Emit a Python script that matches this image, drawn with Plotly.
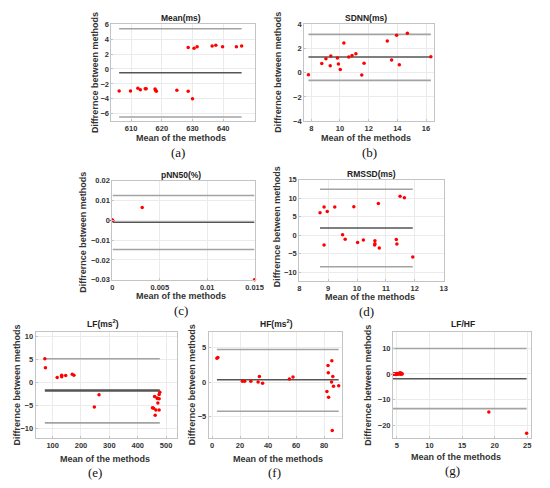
import plotly.graph_objects as go

# ---- data (Bland-Altman style panels) ----
mean_x = [606.1, 609.8, 612.2, 613.0, 614.6, 614.9, 617.8, 618.0, 618.2, 624.9,
          628.6, 628.6, 630.0, 630.5, 631.5, 636.4, 637.6, 639.8, 644.3, 646.0]
mean_y = [-2.94, -2.94, -2.6, -2.8, -2.65, -2.65, -2.7, -2.85, -3.0, -2.85,
          -3.0, 2.9, -4.0, 2.8, 3.0, 3.1, 3.2, 3.0, 3.0, 3.1]
mean_lim = [5.4, -0.5, -6.45]

sdnn_x = [7.8, 8.73, 9.02, 9.32, 9.36, 9.82, 9.89, 10.02, 10.27, 10.61,
          10.84, 11.11, 11.52, 11.68, 13.3, 13.6, 13.95, 14.14, 14.7, 16.34]
sdnn_y = [-0.16, 0.76, 1.16, 0.57, 1.38, 1.22, 0.73, 0.27, 2.46, 1.3,
          1.43, 1.57, -0.19, 0.78, 2.62, 1.05, 3.1, 0.65, 3.27, 1.32]
sdnn_lim = [3.17, 1.3, -0.63]

pnn_x = [0.0, 0.0, 0.0, 0.00314, 0.015]
pnn_y = [0.0, 0.0, 0.0, 0.0065, -0.03]
pnn_lim = [0.0125, -0.001, -0.0147]

rmssd_x = [8.72, 8.86, 8.86, 8.97, 9.23, 9.5, 9.59, 9.89, 10.02, 10.22,
           10.62, 10.62, 10.61, 10.74, 10.77, 11.36, 11.38, 11.49, 11.64, 11.93]
rmssd_y = [6.1, 7.6, -2.65, 6.4, 7.6, 0.1, -1.06, 7.7, -2.0, -1.3,
           -1.5, -2.3, -2.65, 8.6, -3.45, -1.15, -2.4, 10.5, 10.1, -5.9]
rmssd_lim = [12.4, 1.95, -8.5]

lf_x = [72.5, 74.6, 116, 132, 132, 146, 169, 175, 247, 263.6,
        477.8, 475.5, 459.5, 469.8, 475.5, 471, 456, 464, 475.5, 461.6, 452, 468]
lf_y = [5.14, 3.2, 1.07, 1.58, 1.22, 1.5, 1.8, 1.58, -5.35, -2.7,
        -2.14, -2.63, -3.06, -3.49, -3.56, -4.5, -5.63, -6.0, -6.0, -7.13, -5.5, -3.4]
lf_lim = [5.14, -1.78, -8.8]

hf_x = [3.5, 4.2, 21.7, 23.3, 27.7, 32.9, 33.8, 36.1, 55.2, 57.8,
        82.0, 82.8, 83.0, 83.2, 85.3, 85.5, 86.2, 86.7, 85.8, 90.4]
hf_y = [3.46, 3.6, 0.14, 0.14, 0.14, 0.05, 0.85, -0.14, 0.47, 0.76,
        -1.33, 2.42, 1.37, -2.18, 0.05, 3.13, 0.85, -0.57, -6.97, -0.52]
hf_lim = [4.74, 0.38, -4.2]

lfhf_x = [4.3, 4.45, 4.6, 4.7, 4.8, 4.9, 5.0, 5.05, 5.15, 5.25, 5.35, 5.45,
          5.5, 5.6, 5.65, 5.75, 5.8, 19.1, 24.9]
lfhf_y = [0.0, -0.1, 0.1, 0.0, -0.2, 0.1, 0.2, -0.1, 0.0, 0.1, 0.3, 0.0,
          0.5, -0.1, 0.3, 0.1, 0.0, -14.8, -23.1]
lfhf_lim = [9.9, -1.9, -13.5]

W, H = 550, 488
FONT = "Liberation Sans"

# panel: title, data, limits, frame box in px (left, right, top, bottom), ranges, ticks,
# label positions (title, x-title, y-title, letter)
panels = [
    dict(title="Mean(ms)", x=mean_x, y=mean_y, lim=mean_lim,
         box=(111.7, 258.3, 20.7, 119.3), xr=[603.6, 650.4], yr=[-7, 6],
         xt=[610, 620, 630, 640], yt=[-6, -4, -2, 0, 2, 4, 6],
         tpos=(183, 14.5), xtpos=(183, 137), ytpos=(94.3, 70), lpos=(180, 151), letter="(a)"),
    dict(title="SDNN(ms)", x=sdnn_x, y=sdnn_y, lim=sdnn_lim,
         box=(308.3, 440.7, 20.7, 119.3), xr=[7.5, 16.55], yr=[-4, 4],
         xt=[8, 10, 12, 14, 16], yt=[-4, -2, 0, 2, 4],
         tpos=(371.7, 14.5), xtpos=(371, 137), ytpos=(281.7, 70), lpos=(375, 151), letter="(b)"),
    dict(title="pNN50(%)", x=pnn_x, y=pnn_y, lim=pnn_lim,
         box=(112.7, 257.7, 180, 281), xr=[0, 0.015], yr=[-0.03, 0.02],
         xt=[0, 0.005, 0.01, 0.015], yt=[-0.03, -0.02, -0.01, 0, 0.01, 0.02],
         tpos=(183, 174), xtpos=(183, 297.5), ytpos=(82.7, 233), lpos=(183, 312.5), letter="(c)"),
    dict(title="RMSSD(ms)", x=rmssd_x, y=rmssd_y, lim=rmssd_lim,
         box=(303.3, 450.7, 179, 282.7), xr=[8, 13], yr=[-12.5, 15],
         xt=[8, 9, 10, 11, 12, 13], yt=[-10, -5, 0, 5, 10, 15],
         tpos=(376.7, 173.3), xtpos=(375, 298.5), ytpos=(280, 227), lpos=(371.7, 313.5), letter="(d)"),
    dict(title="LF(ms<sup>2</sup>)", x=lf_x, y=lf_y, lim=lf_lim,
         box=(34.3, 179, 334, 441.7), xr=[40, 540], yr=[-12, 11],
         xt=[100, 200, 300, 400, 500], yt=[-10, -5, 0, 5, 10],
         tpos=(103.3, 326), xtpos=(105, 463.5), ytpos=(15, 388), lpos=(95, 477), letter="(e)"),
    dict(title="HF(ms<sup>2</sup>)", x=hf_x, y=hf_y, lim=hf_lim,
         box=(211, 346.7, 334, 441.7), xr=[-2.3, 92.6], yr=[-8, 7.3],
         xt=[0, 20, 40, 60, 80], yt=[-5, 0, 5],
         tpos=(280, 326), xtpos=(281.7, 463.5), ytpos=(193.3, 388), lpos=(278.3, 477), letter="(f)"),
    dict(title="LF/HF", x=lfhf_x, y=lfhf_y, lim=lfhf_lim,
         box=(399, 540, 334, 442.3), xr=[4.4, 25.6], yr=[-25, 16.4],
         xt=[5, 10, 15, 20, 25], yt=[-20, -10, 0, 10],
         tpos=(470, 326), xtpos=(463.3, 461.5), ytpos=(373.3, 388), lpos=(460, 475), letter="(g)"),
]

fig = go.Figure()
annotations = []
layout = {}

for i, p in enumerate(panels):
    n = "" if i == 0 else str(i + 1)
    xa, ya = "x" + n, "y" + n
    left, right, top, bottom = p["box"]
    axis_common = dict(showgrid=True, gridcolor="#ebebeb", gridwidth=0.8,
                       showline=True, linecolor="#c4c4c4", linewidth=1, mirror=True,
                       ticks="inside", ticklen=2, tickcolor="#c4c4c4",
                       tickfont=dict(family=FONT, size=7.5, color="#333333", weight="bold"),
                       zeroline=False, tickmode="array")
    # plotly's own number formatting (negatives get a real minus sign)
    layout["xaxis" + n] = dict(axis_common, domain=[left / W, right / W], range=p["xr"],
                               anchor=ya, tickvals=p["xt"])
    layout["yaxis" + n] = dict(axis_common, domain=[1 - bottom / H, 1 - top / H], range=p["yr"],
                               anchor=xa, tickvals=p["yt"])

    x0, x1 = min(p["x"]), max(p["x"])
    up, mid, low = p["lim"]
    lw_mid = 2.5 if i == 4 else 1.5
    for val, col, lw in [(up, "#a3a3a3", 1.6), (low, "#a3a3a3", 1.6), (mid, "#555555", lw_mid)]:
        fig.add_trace(go.Scatter(x=[x0, x1], y=[val, val], mode="lines",
                                 line=dict(color=col, width=lw), xaxis=xa, yaxis=ya,
                                 showlegend=False, hoverinfo="skip"))
    fig.add_trace(go.Scatter(x=p["x"], y=p["y"], mode="markers",
                             marker=dict(color="#ff0000", size=3.5), xaxis=xa, yaxis=ya,
                             showlegend=False, cliponaxis=False))

    tx, ty = p["tpos"]
    annotations.append(dict(text=p["title"], x=tx / W, y=1 - ty / H, xref="paper", yref="paper",
                            showarrow=False, xanchor="center", yanchor="middle",
                            font=dict(family=FONT, size=8.5, color="#222222", weight="bold")))
    tx, ty = p["xtpos"]
    annotations.append(dict(text="Mean of the methods", x=tx / W, y=1 - ty / H, xref="paper",
                            yref="paper", showarrow=False, xanchor="center", yanchor="middle",
                            font=dict(family=FONT, size=9, color="#333333", weight="bold")))
    tx, ty = p["ytpos"]
    annotations.append(dict(text="Diffrernce between methods", x=tx / W, y=1 - ty / H,
                            xref="paper", yref="paper", showarrow=False, textangle=-90,
                            xanchor="center", yanchor="middle",
                            font=dict(family=FONT, size=9, color="#333333", weight="bold")))
    tx, ty = p["lpos"]
    annotations.append(dict(text=p["letter"], x=tx / W, y=1 - ty / H, xref="paper", yref="paper",
                            showarrow=False, xanchor="center", yanchor="middle",
                            font=dict(family="Liberation Serif", size=13, color="#111111")))

fig.update_layout(**layout)
fig.update_layout(width=W, height=H, margin=dict(l=0, r=0, t=0, b=0),
                  paper_bgcolor="white", plot_bgcolor="white", hovermode=False,
                  annotations=annotations, showlegend=False)

# the page body has a default margin; drop it so the 550x488 figure fills the window
fig.write_html("out.html", config={"displayModeBar": False},
               post_script="document.body.style.margin = '0';")
